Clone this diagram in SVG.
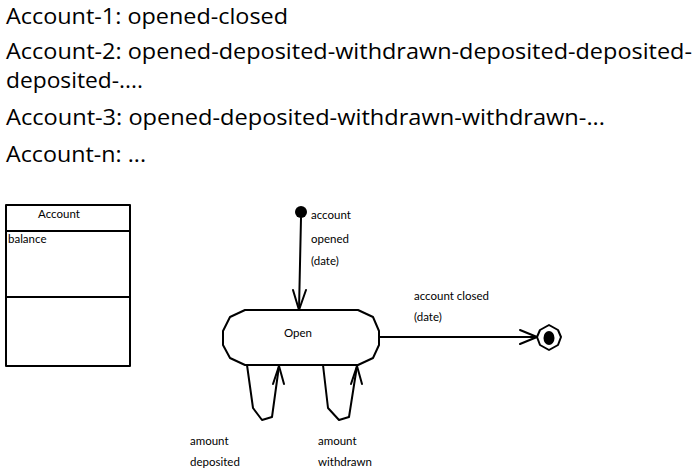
<svg xmlns="http://www.w3.org/2000/svg" width="698" height="473" viewBox="0 0 698 473">
<style>
.big{font-family:"Open Sans","Lato",sans-serif;font-size:22px;fill:#000}
.sm{font-family:"Lato","Noto Sans",sans-serif;font-size:11.5px;fill:#000}
.ln{fill:none;stroke:#000;stroke-width:2;stroke-linejoin:round;stroke-linecap:round}
</style>
<rect width="698" height="473" fill="#fff"/>
<g id="scenarios">
<text class="big" x="6" y="24" textLength="282" lengthAdjust="spacingAndGlyphs">Account-1: opened-closed</text>
<text class="big" x="6" y="59" textLength="686" lengthAdjust="spacingAndGlyphs">Account-2: opened-deposited-withdrawn-deposited-deposited-</text>
<text class="big" x="6" y="88" textLength="137" lengthAdjust="spacingAndGlyphs">deposited-....</text>
<text class="big" x="6" y="125" textLength="599" lengthAdjust="spacingAndGlyphs">Account-3: opened-deposited-withdrawn-withdrawn-...</text>
<text class="big" x="6" y="162" textLength="140" lengthAdjust="spacingAndGlyphs">Account-n: ...</text>
</g>
<g id="class-account">
<rect class="ln" x="6" y="205" width="124" height="161" stroke-linecap="butt" stroke-linejoin="miter"/>
<line class="ln" x1="6" y1="231" x2="130" y2="231"/>
<line class="ln" x1="6" y1="297" x2="130" y2="297"/>
<text class="sm" x="59" y="218" text-anchor="middle">Account</text>
<text class="sm" x="8" y="243">balance</text>
</g>
<g id="initial">
<circle cx="301" cy="212" r="6" fill="#000"/>
</g>
<g id="state-open">
<path class="ln" d="M245,310 L358,310 L373,317 L379,331 L379,345 L373,358 L358,365 L245,365 L230,358 L223,345 L223,331 L230,317 Z" fill="#fff"/>
<text class="sm" x="298" y="337" text-anchor="middle">Open</text>
</g>
<g id="final">
<path class="ln" d="M549,325 L558,330 L561,337 L558,345 L549,350 L540,345 L537,337 L540,330 Z" fill="#fff" stroke-width="1.5"/>
<ellipse cx="549" cy="338" rx="5.5" ry="7" fill="#000"/>
</g>
<g id="connectors">
<path class="ln" d="M301,218 L299,310"/>
<path class="ln" d="M293,290 L299,310 L306,290"/>
<path class="ln" d="M379,337 L537,337"/>
<path class="ln" d="M520,330 L537,337 L520,344"/>
<path class="ln" d="M247,365 L253,408 L262,420 L272,417 L279,366"/>
<path class="ln" d="M273,384 L279,366 L284,384"/>
<path class="ln" d="M323,365 L328,408 L339,420 L349,417 L357,366"/>
<path class="ln" d="M351,384 L357,366 L362,384"/>
</g>
<g id="labels">
<text class="sm" x="311" y="219">account</text>
<text class="sm" x="311" y="243">opened</text>
<text class="sm" x="311" y="265">(date)</text>
<text class="sm" x="414" y="300">account closed</text>
<text class="sm" x="414" y="321">(date)</text>
<text class="sm" x="190" y="445">amount</text>
<text class="sm" x="190" y="466">deposited</text>
<text class="sm" x="318" y="445">amount</text>
<text class="sm" x="318" y="466">withdrawn</text>
</g>
</svg>
